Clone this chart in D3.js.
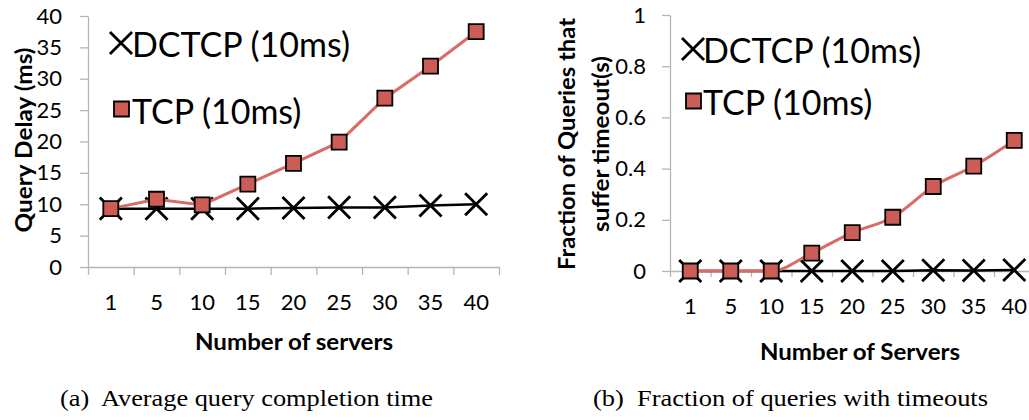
<!DOCTYPE html>
<html>
<head>
<meta charset="utf-8">
<script src="https://cdn.jsdelivr.net/npm/d3@7"></script>
<style>
  body { margin: 0; background: #fff; }
  svg { display: block; }
  .axis path, .axis line { stroke: #b5b5b5; stroke-width: 1.3; }
  .axis text { font-family: Lato, sans-serif; font-size: 22px; fill: #000; }
  .axis-title { font-family: Lato, sans-serif; font-weight: bold; font-size: 22px; fill: #000; }
  .legend text { font-family: Lato, sans-serif; font-size: 34px; fill: #000; }
  .caption { font-family: 'Liberation Serif', 'Times New Roman', serif; font-size: 24px; fill: #000; }
</style>
</head>
<body>
<svg width="1029" height="420"></svg>
<script>
// Number of servers (categories)
var servers = ['1', '5', '10', '15', '20', '25', '30', '35', '40'];

// (a) average query delay, ms
var delayDctcp = [9.3, 9.3, 9.3, 9.3, 9.4, 9.5, 9.5, 9.8, 10.0];
var delayTcp = [9.3, 10.8, 9.9, 13.2, 16.5, 19.9, 26.9, 32.0, 37.5];

// (b) fraction of queries that suffer timeouts
var timeoutDctcp = [0, 0, 0, 0, 0, 0, 0.003, 0.002, 0.004];
var timeoutTcp = [0, 0, 0, 0.07, 0.15, 0.21, 0.33, 0.41, 0.51];

var delayTicks = [0, 5, 10, 15, 20, 25, 30, 35, 40];
var fractionTicks = [0, 0.2, 0.4, 0.6, 0.8, 1];

var seriesNames = ['DCTCP (10ms)', 'TCP (10ms)'];

var svg = d3.select('svg');
var tcpFill = '#cc5c56';
var tcpLine = '#d86b65';

var xMarker = d3.symbol().type(d3.symbolX).size(320);
var sqMarker = d3.symbol().type(d3.symbolSquare).size(225);

// text stretched to the width it has in the original figure
function fitText(sel, width) {
    return sel.attr('textLength', width).attr('lengthAdjust', 'spacingAndGlyphs');
}

function drawPanel(opt) {
    var g = svg.append('g');

    var xScale = d3.scaleBand().domain(servers).range(opt.xRange).padding(0);
    var xEdge = d3.scaleLinear().domain([0, servers.length]).range(opt.xRange);
    var yScale = d3.scaleLinear().domain(opt.yDomain).range(opt.yRange);

    // category boundary tick marks (Excel style)
    g.append('g')
        .attr('class', 'axis')
        .attr('transform', 'translate(0,' + opt.yRange[0] + ')')
        .call(d3.axisBottom(xEdge).tickValues(d3.range(0, servers.length + 1))
            .tickFormat('').tickSize(opt.xTick).tickSizeOuter(0));

    // category labels
    var xAxisG = g.append('g')
        .attr('class', 'axis')
        .attr('transform', 'translate(0,' + opt.yRange[0] + ')')
        .call(d3.axisBottom(xScale).tickSize(0).tickPadding(27));
    xAxisG.select('.domain').remove();

    g.append('g')
        .attr('class', 'axis')
        .attr('transform', 'translate(' + opt.xRange[0] + ',0)')
        .call(d3.axisLeft(yScale).tickValues(opt.ticks).tickSize(8)
            .tickSizeOuter(0).tickPadding(opt.yPad).tickFormat(d3.format('~g')));

    // x title
    fitText(g.append('text')
        .attr('class', 'axis-title')
        .attr('x', opt.xTitle[0])
        .attr('y', opt.xTitle[1])
        .attr('text-anchor', 'middle')
        .text(opt.xLabel), opt.xTitleW);

    // y title (one or two lines)
    opt.yLabel.forEach(function(line, i) {
        fitText(g.append('text')
            .attr('class', 'axis-title')
            .attr('text-anchor', 'middle')
            .attr('dominant-baseline', 'central')
            .attr('transform', 'translate(' + [opt.yTitleX[i], opt.yTitleY] + ')rotate(-90)')
            .text(line), opt.yTitleW[i]);
    });

    var line = d3.line()
        .x(function(d, i) { return xScale(servers[i]) + xScale.bandwidth() / 2; })
        .y(function(d) { return yScale(d); });

    // DCTCP first, TCP drawn on top
    g.append('path')
        .datum(opt.dctcp)
        .attr('fill', 'none')
        .attr('stroke', '#000')
        .attr('stroke-width', 2.5)
        .attr('d', line);

    g.selectAll('.xmark')
        .data(opt.dctcp)
        .enter()
        .append('path')
        .attr('class', 'xmark')
        .attr('d', xMarker)
        .attr('fill', 'none')
        .attr('stroke', '#000')
        .attr('stroke-width', 2.8)
        .attr('transform', function(d, i) {
            return 'translate(' + [xScale(servers[i]) + xScale.bandwidth() / 2, yScale(d)] + ')';
        });

    g.append('path')
        .datum(opt.tcp)
        .attr('fill', 'none')
        .attr('stroke', tcpLine)
        .attr('stroke-width', 3)
        .attr('d', line.curve(opt.curve));

    g.selectAll('.sq')
        .data(opt.tcp)
        .enter()
        .append('path')
        .attr('class', 'sq')
        .attr('d', sqMarker)
        .attr('fill', tcpFill)
        .attr('stroke', '#000')
        .attr('stroke-width', 1.8)
        .attr('transform', function(d, i) {
            return 'translate(' + [xScale(servers[i]) + xScale.bandwidth() / 2, yScale(d)] + ')';
        });

    // legend
    var leg = g.append('g').attr('class', 'legend');
    leg.append('path')
        .attr('d', xMarker)
        .attr('fill', 'none')
        .attr('stroke', '#000')
        .attr('stroke-width', 2.8)
        .attr('transform', 'translate(' + opt.legMarks[0] + ')');
    leg.append('path')
        .attr('d', sqMarker)
        .attr('fill', tcpFill)
        .attr('stroke', '#000')
        .attr('stroke-width', 1.8)
        .attr('transform', 'translate(' + opt.legMarks[1] + ')');
    seriesNames.forEach(function(name, i) {
        leg.append('text')
            .attr('x', opt.legX)
            .attr('y', opt.legY[i])
            .text(name);
    });

    // caption
    fitText(svg.append('text')
        .attr('class', 'caption')
        .attr('x', opt.caption[0])
        .attr('y', opt.caption[1])
        .attr('xml:space', 'preserve')
        .text(opt.captionText), opt.captionW);
}

drawPanel({
    xRange: [88, 499], yRange: [267, 16], yDomain: [0, 40],
    ticks: delayTicks, yPad: 18, xTick: 8,
    dctcp: delayDctcp, tcp: delayTcp, curve: d3.curveLinear,
    xLabel: 'Number of servers', xTitle: [294, 350], xTitleW: 198,
    yLabel: ['Query Delay (ms)'], yTitleX: [23], yTitleY: 140, yTitleW: [185],
    legMarks: [[121, 43], [121.5, 109]], legX: 132, legY: [57, 124],
    caption: [60, 406], captionText: '(a)  Average query completion time', captionW: 373
});

drawPanel({
    xRange: [670, 1034.5], yRange: [271, 15], yDomain: [0, 1],
    ticks: fractionTicks, yPad: 16, xTick: 6,
    dctcp: timeoutDctcp, tcp: timeoutTcp, curve: d3.curveMonotoneX,
    xLabel: 'Number of Servers', xTitle: [860, 360], xTitleW: 200,
    yLabel: ['Fraction of Queries that', 'suffer timeout(s)'], yTitleX: [566, 600], yTitleY: 144,
    yTitleW: [252, 176],
    legMarks: [[693, 49], [693.5, 101]], legX: 703, legY: [63, 115],
    caption: [593, 406], captionText: '(b)  Fraction of queries with timeouts', captionW: 395
});
</script>
</body>
</html>
